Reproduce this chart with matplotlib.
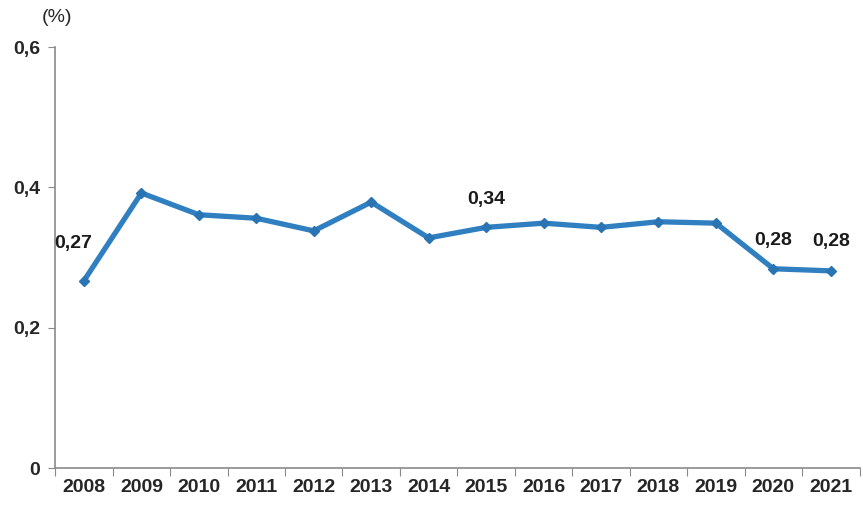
import numpy as np
import matplotlib.pyplot as plt
from matplotlib.ticker import FixedLocator, FuncFormatter

plt.rcParams['font.family'] = ['Liberation Sans', 'DejaVu Sans']

years = ['2008', '2009', '2010', '2011', '2012', '2013', '2014',
         '2015', '2016', '2017', '2018', '2019', '2020', '2021']
rates = [0.267, 0.392, 0.361, 0.356, 0.338, 0.379, 0.328,
         0.343, 0.349, 0.343, 0.351, 0.349, 0.284, 0.281]
labelled = [0, 7, 12, 13]
y_ticks = [0, 0.2, 0.4, 0.6]

line_color = '#2f7fc1'
axis_color = '#8a8a8a'
text_color = '#262626'


def comma_fmt(v, digits):
    if v == 0:
        return '0'
    return f'{v:.{digits}f}'.replace('.', ',')


fig = plt.figure(figsize=(8.63, 5.11), dpi=100)
ax = fig.add_axes([0.064, 0.084, 0.932, 0.824])

x = np.arange(len(years))
ax.plot(x, rates, color=line_color, lw=3.8, marker='D', markersize=5,
        markerfacecolor='#2a74b3', markeredgecolor='#2a74b3', zorder=3)

# value labels
offsets = {0: (-8, 27), 7: (0, 20), 12: (0, 20), 13: (0, 21)}
for i in labelled:
    ax.annotate(comma_fmt(rates[i], 2), (x[i], rates[i]),
                xytext=offsets[i], textcoords='offset points',
                ha='center', va='center', fontsize=14, fontweight='bold',
                color='#1a1a1a')

ax.set_xlim(-0.5, len(years) - 0.5)
ax.set_ylim(0, 0.6)

# boundary ticks on x, labels at category centres
ax.xaxis.set_major_locator(FixedLocator(np.arange(-0.5, len(years), 1.0)))
ax.xaxis.set_major_formatter(FuncFormatter(lambda v, p: ''))
ax.set_xticks(x, years, minor=True, fontweight='bold')
ax.tick_params(axis='x', which='major', length=6, color=axis_color,
               direction='out')
ax.tick_params(axis='x', which='minor', length=0, pad=8, labelsize=14,
               labelcolor=text_color)

ax.set_yticks(y_ticks)
ax.yaxis.set_major_formatter(FuncFormatter(lambda v, p: comma_fmt(v, 1)))
ax.tick_params(axis='y', length=5, color=axis_color, labelsize=14,
               labelcolor=text_color, pad=6)
for lbl in ax.get_yticklabels():
    lbl.set_fontweight('bold')

for side in ['top', 'right']:
    ax.spines[side].set_visible(False)
for side in ['left', 'bottom']:
    ax.spines[side].set_color(axis_color)
    ax.spines[side].set_linewidth(1.2)

fig.text(0.066, 0.965, '(%)', ha='center', va='center', fontsize=14,
         color=text_color)

fig.savefig('out.png', dpi=100)
